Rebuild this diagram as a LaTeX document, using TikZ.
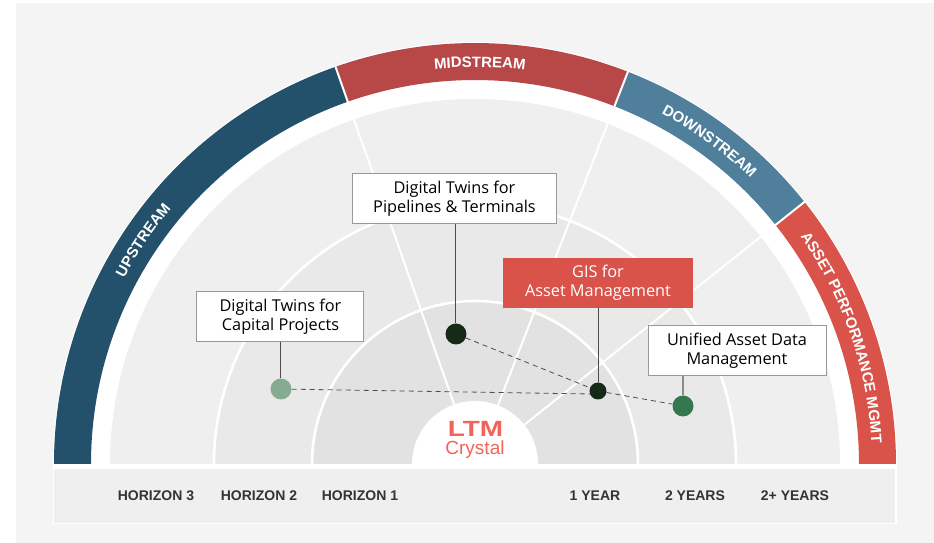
\documentclass[tikz,border=0pt]{standalone}
\usepackage{fontspec}
\setmainfont{Liberation Sans}
\newfontfamily\logofont[FakeStretch=1.27]{Liberation Sans}
\newfontfamily\boxfont{Open Sans}
\usetikzlibrary{decorations.text}
\definecolor{bgpage}{HTML}{F4F4F4}
\definecolor{zoneA}{HTML}{EFEFEF}
\definecolor{zoneB}{HTML}{E9E9E9}
\definecolor{zoneC}{HTML}{E2E2E2}
\definecolor{upc}{HTML}{23506A}
\definecolor{midc}{HTML}{B84747}
\definecolor{downc}{HTML}{4F7F9B}
\definecolor{apmc}{HTML}{D9534A}
\definecolor{logoc}{HTML}{F0645A}
\definecolor{dotdark}{HTML}{152A17}
\definecolor{dotgreen}{HTML}{35774F}
\definecolor{dotpale}{HTML}{86AB93}
\definecolor{labelc}{HTML}{333333}
\tikzset{
  x=1pt,y=1pt,
  labelbox/.style={draw=black!40,line width=1pt,fill=white,text=black,align=center,font=\boxfont\fontsize{16.3}{19.4}\selectfont,inner sep=0pt,execute at begin node={\rule{0pt}{15pt}}},
  hotbox/.style={fill=apmc,text=white,align=center,font=\boxfont\fontsize{16.3}{19.4}\selectfont,inner sep=0pt,execute at begin node={\rule{0pt}{15pt}}},
  axislabel/.style={font=\fontsize{14}{16}\selectfont\bfseries,text=labelc,inner sep=0pt},
  stem/.style={line width=1pt,draw=black!70},
  dashlink/.style={line width=.8pt,draw=black!70,dash pattern=on 5pt off 4pt},
  spoke/.style={draw=white,line width=2pt},
  ring/.style={draw=white,line width=2.6pt},
  sep/.style={draw=white,line width=2pt},
  bandtext/.style={decorate,decoration={text along path,text align=center,text color=white,
    text={|\fontsize{15}{16}\selectfont\bfseries|#1}}},
  dot/.style={circle,inner sep=0pt,minimum size=#1}
}
\newcommand{\bandseg}[3]{\fill[#1] (#2:384pt) arc[start angle=#2,end angle=#3,radius=384pt] -- (#3:421pt) arc[start angle=#3,end angle=#2,radius=421pt] -- cycle;}
\begin{document}
\begin{tikzpicture}
% origin = hub centre; 1pt = 1 reference pixel
\useasboundingbox (-475,-79) rectangle (459,464);
\fill[bgpage] (-459,-79) rectangle (459,461);
% band
\fill[white] (-422,0) arc[start angle=180,end angle=0,radius=422pt] -- cycle;
\bandseg{upc}{180}{109.35}
\bandseg{midc}{109.35}{68.7}
\bandseg{downc}{68.7}{38.5}
\bandseg{apmc}{38.5}{0}
\draw[sep] (109.35:383pt) -- (109.35:422pt);
\draw[sep] (68.7:383pt) -- (68.7:422pt);
\draw[sep] (38.5:383pt) -- (38.5:422pt);
% zones
\fill[zoneA] (-365,0) arc[start angle=180,end angle=0,radius=365pt] -- cycle;
\fill[zoneB] (-261,0) arc[start angle=180,end angle=0,radius=261pt] -- cycle;
\fill[zoneC] (-163,0) arc[start angle=180,end angle=0,radius=163pt] -- cycle;
\draw[ring] (-261,0) arc[start angle=180,end angle=0,radius=261pt];
\draw[ring] (-163,0) arc[start angle=180,end angle=0,radius=163pt];
\draw[spoke] (109.35:63pt) -- (109.35:366pt);
\draw[spoke] (68.7:63pt) -- (68.7:366pt);
\draw[spoke] (38.5:63pt) -- (38.5:366pt);
\fill[white] (-63,0) arc[start angle=180,end angle=0,radius=63pt] -- cycle;
% band labels
\path[bandtext={UPSTREAM}] (160:397pt) arc[start angle=160,end angle=132,radius=397pt];
\path[bandtext={MIDSTREAM}] (105.3:397pt) arc[start angle=105.3,end angle=73.3,radius=397pt];
\path[bandtext={DOWNSTREAM}] (70:397pt) arc[start angle=70,end angle=38,radius=397pt];
\path[bandtext={ASSET PERFORMANCE MGMT}] (38:397pt) arc[start angle=38,end angle=0,radius=397pt];
% bottom panel
\fill[white] (-422,-60) rectangle (422,0);
\fill[zoneA] (-421,-59.5) rectangle (420,-5);
\node[axislabel] (h3) at (-319,-31.5) {HORIZON 3};
\node[axislabel] (h2) at (-216,-31.5) {HORIZON 2};
\node[axislabel] (h1) at (-115,-31.5) {HORIZON 1};
\node[axislabel] (y1) at (120,-31.5) {1 YEAR};
\node[axislabel] (y2) at (220,-31.5) {2 YEARS};
\node[axislabel] (y3) at (320,-31.5) {2+ YEARS};
% logo
\node[inner sep=0pt,text=logoc,font=\logofont\bfseries\fontsize{22}{22}\selectfont] (ltm) at (0.5,35) {LTM};
\node[inner sep=0pt,text=logoc,font=\fontsize{19}{19}\selectfont] (crystal) at (0,14) {Crystal};
% dots
\node[dot=21pt,fill=dotpale] (dcap) at (-194,75) {};
\node[dot=21pt,fill=dotdark] (dpipe) at (-19,130) {};
\node[dot=17pt,fill=dotdark] (dgis) at (123,73) {};
\node[dot=21pt,fill=dotgreen] (dasset) at (208,58) {};
% boxes
\node[labelbox,minimum width=167pt,minimum height=50pt] (bcap) at (-194.5,147) {Digital Twins for\\Capital Projects};
\node[labelbox,minimum width=203pt,minimum height=50pt] (bpipe) at (-20.5,265.5) {Digital Twins for\\Pipelines \& Terminals};
\node[hotbox,minimum width=190pt,minimum height=50pt] (bgis) at (123,181) {GIS for\\Asset Management};
\node[labelbox,minimum width=178pt,minimum height=50pt] (basset) at (262,113.5) {Unified Asset Data\\Management};
% connectors
\draw[stem] (bcap.south -| dcap) -- (dcap);
\draw[stem] (bpipe.south -| dpipe) -- (dpipe);
\draw[stem] (bgis.south -| dgis) -- (dgis);
\draw[stem,draw=black!45,line width=1.6pt] (basset.south -| dasset) -- (dasset);
\draw[dashlink] (dcap) -- (dgis.200);
\draw[dashlink] (dpipe) -- (dgis);
\draw[dashlink] (dgis) -- (dasset);
\end{tikzpicture}
\end{document}
